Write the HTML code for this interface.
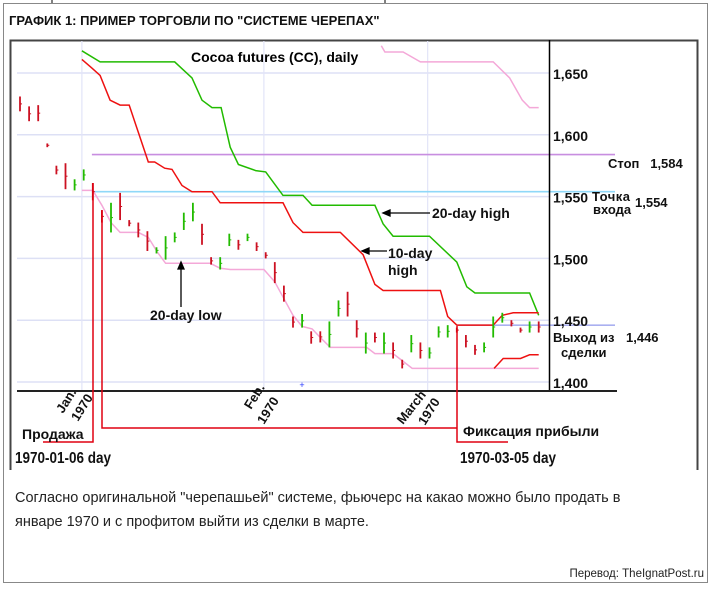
<!DOCTYPE html>
<html><head><meta charset="utf-8"><style>
body{margin:0;background:#fff;width:711px;height:586px;overflow:hidden;font-family:"Liberation Sans",sans-serif}
svg text{font-family:"Liberation Sans","Noto Sans CJK SC",sans-serif}
</style></head><body>
<svg id="c" width="711" height="586" xmlns="http://www.w3.org/2000/svg">
<rect x="3.5" y="3.5" width="704" height="579" fill="none" stroke="#888"/>
<line x1="52" y1="0" x2="52" y2="3" stroke="#000"/><line x1="385" y1="0" x2="385" y2="3" stroke="#000"/>
<text x="9" y="25" font-size="13" font-weight="bold" fill="#111">ГРАФИК 1: ПРИМЕР ТОРГОВЛИ ПО "СИСТЕМЕ ЧЕРЕПАХ"</text>
<path d="M10.5 470 V40.5 H697.5 V470" fill="none" stroke="#444" stroke-width="2"/>
<g id="grid"></g>
<g id="marks"></g>
<line x1="549.5" y1="40" x2="549.5" y2="391" stroke="#000" stroke-width="1.5"/>
<line x1="17" y1="391" x2="617" y2="391" stroke="#222" stroke-width="2"/>
<g id="ticks" font-size="14" font-weight="bold" fill="#111"></g>
<text x="191" y="62" font-size="14" font-weight="bold">Cocoa futures (CC), daily</text>
<g font-size="14" font-weight="bold" fill="#111">
<text x="432" y="218">20-day high</text>
<text x="388" y="258">10-day</text>
<text x="388" y="275">high</text>
<text x="150" y="320">20-day low</text>
</g>
<g stroke="#000" stroke-width="1.3" fill="#000">
<line x1="430" y1="213" x2="388" y2="213"/><path d="M383 213 l7 -3 v6z"/>
<line x1="387" y1="251" x2="367" y2="251"/><path d="M362 251 l7 -3 v6z"/>
<line x1="181" y1="307" x2="181" y2="267"/><path d="M181 262 l-3 7 h6z"/>
</g>
<g font-size="13" font-weight="bold" fill="#111">
<text x="608" y="168">Стоп &#160;&#160;1,584</text>
<text x="592" y="201" letter-spacing="0.5">Точка</text>
<text x="593" y="214">входа</text>
<text x="635" y="207">1,554</text>
<text x="553" y="342">Выход из</text>
<text x="561" y="357">сделки</text>
<text x="626" y="342">1,446</text>
</g>
<g font-size="13" font-weight="bold" fill="#111">
<text transform="translate(63,414) rotate(-58)">Jan.</text>
<text transform="translate(78,422) rotate(-58)">1970</text>
<text transform="translate(251,410) rotate(-58)">Feb.</text>
<text transform="translate(264,425) rotate(-58)">1970</text>
<text transform="translate(403,425) rotate(-52)">March</text>
<text transform="translate(425,426) rotate(-58)">1970</text>
</g>
<g stroke="#e00010" stroke-width="1.5" fill="none">
<path d="M43 442 H93 V183"/>
<path d="M102 210 V428 H457"/>
<path d="M457 326 V442 H508"/>
</g>
<g font-weight="bold" fill="#111">
<text x="22" y="439" font-size="14">Продажа</text>
<text x="15" y="463" font-size="16" textLength="96" lengthAdjust="spacingAndGlyphs">1970-01-06 day</text>
<text x="463" y="436" font-size="14">Фиксация прибыли</text>
<text x="460" y="463" font-size="16" textLength="96" lengthAdjust="spacingAndGlyphs">1970-03-05 day</text>
</g>
<text x="15" y="502" font-size="14.5" fill="#222">Согласно оригинальной "черепашьей" системе, фьючерс на какао можно было продать в</text>
<text x="15" y="526" font-size="14.5" fill="#222">январе 1970 и с профитом выйти из сделки в марте.</text>
<text x="704" y="577" font-size="11.5" fill="#222" text-anchor="end">Перевод: TheIgnatPost.ru</text>
<text x="302" y="388" font-size="9" fill="#2233ff" text-anchor="middle">+</text>
</svg>
<script>
const yTicks=[1400,1450,1500,1550,1600,1650];
const highs=[1631,1623,1624,1593,1575,1577,1564,1572,1561,1539,1545,1553,1531,1529,1522,1509,1518,1521,1537,1545,1528,1501,1501,1520,1515,1520,1513,1505,1497,1478,1453,1455,1441,1441,1449,1466,1473,1450,1440,1440,1440,1432,1418,1438,1432,1428,1445,1446,1444,1438,1430,1432,1453,1456,1450,1444,1449,1449];
const lows=[1619,1611,1611,1590,1568,1556,1555,1563,1547,1529,1521,1531,1526,1517,1506,1504,1499,1513,1523,1530,1511,1495,1491,1510,1507,1514,1506,1500,1480,1465,1444,1444,1431,1432,1428,1453,1453,1436,1423,1432,1423,1419,1411,1424,1419,1419,1436,1436,1440,1428,1422,1424,1436,1448,1445,1440,1440,1440];
const upDay=[0,0,0,0,0,0,1,1,0,0,1,0,0,0,0,1,1,1,1,1,0,0,1,1,0,1,0,0,0,0,0,1,0,0,1,1,0,0,1,0,1,0,0,1,0,1,1,1,0,0,0,1,1,1,0,0,1,0];
const high20Idx=[6.8,8.8,17,18.9,20,21.1,22.1,23.1,24,25.9,27,28.9,31.1,32.1,39,39.9,41,45,48,49.1,50,56,57];
const high20Val=[1668,1659,1659,1646,1628,1622,1622,1590,1576,1571,1570,1551,1551,1543,1543,1528,1518,1518,1497,1477,1472,1472,1454];
const high10Idx=[6.8,7.9,8.8,9.9,11,12,13,14.1,14.8,15.9,16.7,17.8,18.9,21.1,22,28.9,30,31.1,35.2,37.7,39,39.9,46.2,47,48,52,53,54.2,57];
const high10Val=[1661,1654,1648,1628,1624,1624,1602,1578,1578,1573,1572,1559,1554,1554,1545,1545,1529,1521,1521,1503,1479,1474,1474,1453,1446,1446,1454,1456,1456];
const low20Idx=[6.8,8,9,10,11,13,14.1,15.1,16,20.9,22,23.1,26.8,28,30,31,32.1,33,34.1,38.1,39,41,43.1,57];
const low20Val=[1555,1555,1543,1529,1521,1521,1517,1505,1496,1496,1492,1491,1491,1481,1454,1445,1443,1436,1428,1428,1423,1423,1411,1411];
const topLowIdx=[39.7,40.1,42.1,44,52,53.8,55.2,56,57];
const topLowVal=[1672,1667,1667,1659,1659,1646,1628,1622,1622];
const low10Idx=[52.1,53.1,55,56,57];
const low10Val=[1411,1419,1419,1422,1422];
const levelVals=[1584,1554,1446];
const levelStart=[7.9,7.9,48];
const monthIdx=[6.8,26.8,44.8];
const NS='http://www.w3.org/2000/svg';
const x=i=>20+i*9.1;
const y=v=>382-(v-1400)*1.236;
const grid=document.getElementById('grid'),marks=document.getElementById('marks'),ticks=document.getElementById('ticks');
function mk(p,tag,a){const e=document.createElementNS(NS,tag);for(const k in a)e.setAttribute(k,a[k]);p.appendChild(e);return e;}
yTicks.forEach(t=>{
  const l=mk(grid,'line',{x1:17,x2:549,y1:y(t),y2:y(t),stroke:'#dde0f5','stroke-width':1.5});
  
  
  const tx=mk(ticks,'text',{x:553,y:y(t)+6});
  tx.textContent=t.toLocaleString('en-US');
  
  
});
monthIdx.forEach(m=>{
  const l=mk(grid,'line',{x1:x(m),x2:x(m),y1:41,y2:391,stroke:'#e2e4f8','stroke-width':1.2});
  
  
});
function line(ix,vals,color,name){
  const d=ix.map((i,k)=>(k?'L':'M')+x(i).toFixed(1)+' '+y(vals[k]).toFixed(1)).join(' ');
  const p=mk(marks,'path',{d:d,fill:'none',stroke:color,'stroke-width':1.5});
  
  
}
const lvlColors=['#c88ee0','#8fd8f8','#aab0f0'];
const lvlNames=['stop-line','entry-line','exit-line'];
levelVals.forEach((v,k)=>{
  const l=mk(marks,'line',{x1:x(levelStart[k]),x2:615,y1:y(v),y2:y(v),stroke:lvlColors[k],'stroke-width':1.6});
  
  
});
line(topLowIdx,topLowVal,'#f4a8d8','low-line-top');
line(low20Idx,low20Val,'#f4a8d8','20-day-low-line');
line(high20Idx,high20Val,'#22bb00','20-day-high-line');
line(high10Idx,high10Val,'#ee1111','10-day-high-line');
line(low10Idx,low10Val,'#ee1111','10-day-low-line');
highs.forEach((h,i)=>{
  const c=upDay[i]?'#22bb00':'#cc1122';
  const b=mk(marks,'line',{x1:x(i),x2:x(i),y1:y(h),y2:y(lows[i]),stroke:c,'stroke-width':1.8});
  
  
  const cl=(h+lows[i])/2;
  const t=mk(marks,'line',{x1:x(i),x2:x(i)+2,y1:y(cl),y2:y(cl),stroke:c,'stroke-width':1});
  
  
});
</script>
</body></html>
